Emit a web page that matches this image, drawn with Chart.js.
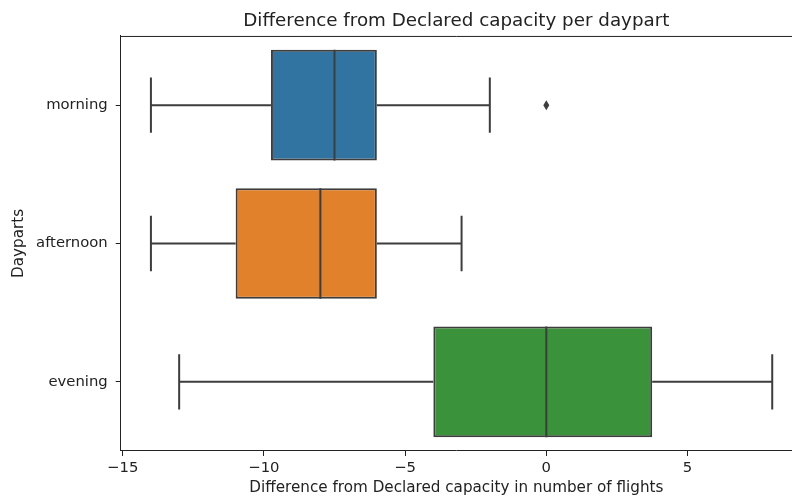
<!DOCTYPE html>
<html>
<head>
<meta charset="utf-8">
<script src="https://cdn.jsdelivr.net/npm/chart.js@4.4.1/dist/chart.umd.min.js"></script>
<style>
  html, body { margin: 0; padding: 0; background: #fff; overflow: hidden; }
</style>
</head>
<body>
<canvas id="c" width="792" height="500"></canvas>
<script>
// --- data ---
const dayparts = ["morning", "afternoon", "evening"];
const whiskerLow = [-14, -14, -13];
const q1 = [-9.75, -11, -4];
const medians = [-7.5, -8, 0];
const q3 = [-6, -6, 3.75];
const whiskerHigh = [-2, -3, 8];
const outliers = [[0], [], []];
const boxColors = ["#3274a1", "#e1812c", "#3a923a"];
const xTicks = [-15, -10, -5, 0, 5];

const LINE = "#3d3d3d";
const AXIS = "#222";
const FONT = "DejaVu Sans";

// whiskers, caps, medians and fliers, drawn through the scales
const boxExtras = {
  id: "boxExtras",
  afterDatasetsDraw(chart) {
    const { ctx, scales: { x, y }, chartArea } = chart;
    ctx.save();
    ctx.strokeStyle = LINE;
    ctx.lineWidth = 2;
    dayparts.forEach((d, i) => {
      const yc = y.getPixelForValue(i);
      const capTop = y.getPixelForValue(i - 0.2), capBot = y.getPixelForValue(i + 0.2);
      const boxTop = y.getPixelForValue(i - 0.4), boxBot = y.getPixelForValue(i + 0.4);
      ctx.beginPath();
      // whiskers
      ctx.moveTo(x.getPixelForValue(whiskerLow[i]), yc);
      ctx.lineTo(x.getPixelForValue(q1[i]), yc);
      ctx.moveTo(x.getPixelForValue(q3[i]), yc);
      ctx.lineTo(x.getPixelForValue(whiskerHigh[i]), yc);
      // caps
      [whiskerLow[i], whiskerHigh[i]].forEach(v => {
        const px = x.getPixelForValue(v);
        ctx.moveTo(px, capTop); ctx.lineTo(px, capBot);
      });
      // median
      const mx = x.getPixelForValue(medians[i]);
      ctx.moveTo(mx, boxTop); ctx.lineTo(mx, boxBot);
      ctx.stroke();
      // fliers (thin diamonds)
      ctx.fillStyle = LINE;
      outliers[i].forEach(v => {
        const px = x.getPixelForValue(v);
        ctx.beginPath();
        ctx.moveTo(px, yc - 5); ctx.lineTo(px + 3, yc);
        ctx.lineTo(px, yc + 5); ctx.lineTo(px - 3, yc);
        ctx.closePath(); ctx.fill();
      });
    });
    // top spine (the right one falls at the edge of the cropped figure)
    ctx.strokeStyle = AXIS;
    ctx.lineWidth = 1;
    ctx.beginPath();
    ctx.moveTo(chartArea.left, chartArea.top + 0.5);
    ctx.lineTo(chartArea.right, chartArea.top + 0.5);
    ctx.stroke();
    ctx.restore();
  }
};

new Chart(document.getElementById("c"), {
  type: "bar",
  data: {
    labels: dayparts,
    datasets: [{
      data: dayparts.map((d, i) => [q1[i], q3[i]]),
      backgroundColor: boxColors,
      borderColor: LINE,
      borderWidth: 2,
      borderSkipped: false,
      barPercentage: 0.8,
      categoryPercentage: 1.0
    }]
  },
  options: {
    indexAxis: "y",
    responsive: false,
    devicePixelRatio: 1,
    animation: false,
    layout: { padding: 0 },
    plugins: {
      legend: { display: false },
      tooltip: { enabled: false },
      title: {
        display: true,
        fullSize: false,
        text: "Difference from Declared capacity per daypart",
        color: AXIS,
        font: { family: FONT, size: 18.3, weight: "normal", lineHeight: 1.2 },
        padding: { top: 9.8, bottom: 4.2 }
      }
    },
    scales: {
      x: {
        type: "linear",
        min: -15.07,
        max: 8.7,
        afterBuildTicks(s) { s.ticks = xTicks.map(v => ({ value: v })); },
        afterFit(s) { s.height = 49; },
        grid: { drawOnChartArea: false, drawTicks: true, tickLength: 5, tickColor: AXIS, tickWidth: 1 },
        border: { display: true, color: AXIS, width: 1 },
        ticks: {
          color: AXIS,
          padding: 3,
          maxRotation: 0,
          font: { family: FONT, size: 14.8 },
          callback: v => String(v).replace("-", "\u2212")
        },
        title: {
          display: true,
          text: "Difference from Declared capacity in number of flights",
          color: AXIS,
          font: { family: FONT, size: 15.2, lineHeight: 1.2 },
          padding: { top: 0, bottom: 2.5 }
        }
      },
      y: {
        type: "category",
        offset: true,
        afterFit(s) { s.width = 120.7; },
        grid: { offset: false, drawOnChartArea: false, drawTicks: true, tickLength: 5, tickColor: AXIS, tickWidth: 1 },
        border: { display: true, color: AXIS, width: 1 },
        ticks: { color: AXIS, padding: 8, font: { family: FONT, size: 14.8 } },
        title: {
          display: true,
          text: "Dayparts",
          color: AXIS,
          font: { family: FONT, size: 15.2, lineHeight: 1.2 },
          padding: { top: 10, bottom: 0 }
        }
      }
    }
  },
  plugins: [boxExtras]
});
</script>
</body>
</html>
